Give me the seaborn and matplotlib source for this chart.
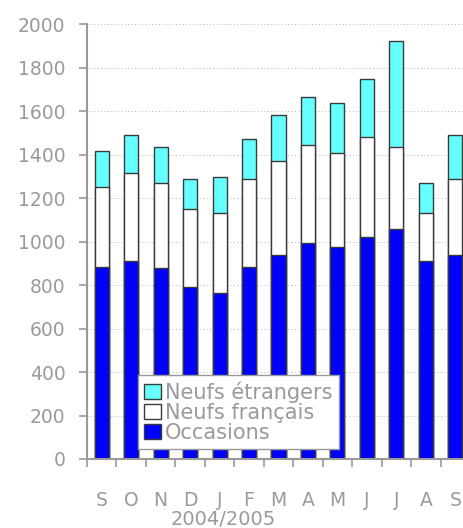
import numpy as np
import pandas as pd
import seaborn as sns
import matplotlib
matplotlib.use("Agg")
import matplotlib.pyplot as plt
from matplotlib.patches import Patch
from matplotlib.ticker import FixedLocator

sns.set_theme(style="white")
plt.rcParams['font.family'] = ['DejaVu Sans']

# data (sept 2004 -> sept 2005)
mois = ["S", "O", "N", "D", "J", "F", "M", "A", "M", "J", "J", "A", "S"]
occasions = [884, 912, 877, 792, 766, 884, 938, 993, 975, 1022, 1059, 912, 938]
neufs_francais = [368, 405, 394, 359, 368, 405, 434, 453, 434, 460, 377, 222, 350]
neufs_etrangers = [166, 175, 165, 138, 164, 184, 212, 221, 229, 268, 488, 137, 202]

df = pd.DataFrame({"pos": np.arange(len(mois)), "mois": mois,
                   "occ": occasions, "fr": neufs_francais, "etr": neufs_etrangers})
df["cum_fr"] = df["occ"] + df["fr"]
df["cum_etr"] = df["cum_fr"] + df["etr"]

grey = "#9a9a9a"
edge = "#3a3a3a"

fig = plt.figure(figsize=(4.63, 5.28), dpi=100)
ax = fig.add_axes([87/463, 1-459/528, 383/463, (459-24.3)/528])

# stacked by overlaying cumulative totals
sns.barplot(data=df, x="pos", y="cum_etr", color="#66FFFF", width=0.48,
            edgecolor=edge, linewidth=1, saturation=1, ax=ax)
sns.barplot(data=df, x="pos", y="cum_fr", color="white", width=0.48,
            edgecolor=edge, linewidth=1, saturation=1, ax=ax)
sns.barplot(data=df, x="pos", y="occ", color="#0000FF", width=0.48,
            edgecolor=edge, linewidth=1, saturation=1, ax=ax)

ax.set_ylim(0, 2000)
ax.set_xlim(-0.5, len(mois) - 0.5)
ax.set_yticks(np.arange(0, 2001, 200))
ax.yaxis.grid(True, linestyle=(0, (1, 2.5)), color="#b4b4b4", linewidth=0.7)
ax.set_axisbelow(True)
ax.set_xlabel("")
ax.set_ylabel("")

ax.set_xticks(df["pos"])
ax.set_xticklabels(mois)
ax.xaxis.set_minor_locator(FixedLocator(np.arange(-0.5, len(mois), 1)))
ax.tick_params(axis="x", which="minor", length=5.5, width=1.2, color=grey, direction="out", bottom=True)
ax.tick_params(axis="x", which="major", length=0, labelsize=13.5, labelcolor=grey)
for t in ax.xaxis.get_major_ticks():
    t.set_pad(23)
ax.tick_params(axis="y", length=5.5, width=1.2, color=grey, direction="out", left=True,
               pad=10, labelsize=13.5, labelcolor=grey)

for s in ["top", "right"]:
    ax.spines[s].set_visible(False)
for s in ["left", "bottom"]:
    ax.spines[s].set_color(grey)
    ax.spines[s].set_linewidth(1.5)

handles = [Patch(facecolor="#66FFFF", edgecolor=edge, label="Neufs étrangers"),
           Patch(facecolor="white", edgecolor=edge, label="Neufs français"),
           Patch(facecolor="#0000FF", edgecolor=edge, label="Occasions")]
leg = ax.legend(handles=handles, loc="lower left", bbox_to_anchor=(138/463, 1-449/528),
                bbox_transform=fig.transFigure, frameon=True, fancybox=False, framealpha=1,
                fontsize=15, labelcolor=grey, labelspacing=0.0, handlelength=0.8,
                handleheight=0.8, handletextpad=0.2, borderpad=0.3, borderaxespad=0)
leg.get_frame().set_edgecolor(grey)
leg.get_frame().set_linewidth(1)
leg.get_frame().set_facecolor("white")

fig.text(223/463, 1-510/528, "2004/2005", ha="center", va="top", fontsize=14, color=grey)

fig.savefig("out.png", dpi=100)
